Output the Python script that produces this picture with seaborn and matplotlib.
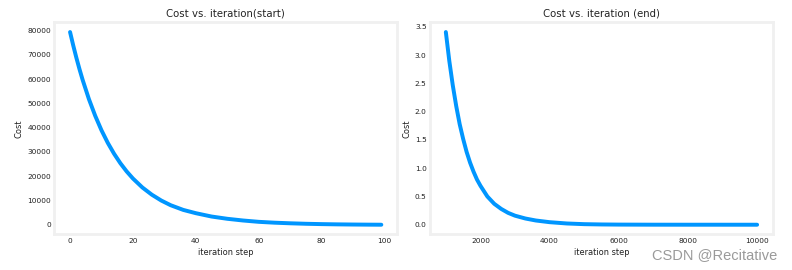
import numpy as np
import pandas as pd
import matplotlib
matplotlib.use("Agg")
import matplotlib.pyplot as plt
import seaborn as sns

# ---- data ----
start_iter = [0, 1, 2, 3, 4, 6, 8, 10, 12, 14, 16, 18, 20, 23, 26, 29, 32, 36, 40,
              45, 50, 55, 60, 65, 70, 75, 80, 85, 90, 95, 99]
start_cost = [79300, 73850, 68770, 64050, 59650, 51730, 44880, 38910, 33750, 29280,
              25390, 22020, 19100, 15420, 12460, 10060, 8130, 6200, 4850, 3480, 2550,
              1850, 1300, 950, 700, 500, 360, 260, 190, 140, 110]

end_iter = [1000, 1100, 1200, 1300, 1400, 1500, 1600, 1700, 1800, 1900, 2000, 2200,
            2400, 2600, 2800, 3000, 3300, 3600, 4000, 4500, 5000, 5500, 6000, 7000,
            8000, 9000, 9999]
end_cost = [3.41, 2.90, 2.47, 2.10, 1.78, 1.52, 1.29, 1.10, 0.94, 0.80, 0.69, 0.50,
            0.37, 0.28, 0.21, 0.16, 0.11, 0.075, 0.045, 0.022, 0.010, 0.0048, 0.0023,
            0.00054, 0.000125, 0.00003, 0.000007]

titles = ["Cost vs. iteration(start)", "Cost vs. iteration (end)"]
xlabel = "iteration step"
ylabel = "Cost"
watermark = "CSDN @Recitative"

sns.set_theme(style="white")
plt.rcParams.update({
    "font.family": ["DejaVu Sans"],
    "axes.edgecolor": "#f0f0f0",
    "axes.linewidth": 3.0,
    "xtick.major.size": 0,
    "ytick.major.size": 0,
    "xtick.labelsize": 8,
    "ytick.labelsize": 8,
    "xtick.color": "#222222",
    "ytick.color": "#222222",
    "axes.labelsize": 9,
    "axes.labelcolor": "#222222",
    "axes.titlesize": 11,
})

fig, (ax1, ax2) = plt.subplots(1, 2, figsize=(792 / 66, 270 / 66), dpi=66)
fig.subplots_adjust(left=0.0688, right=0.9756, bottom=0.132, top=0.917, wspace=0.0975)

df1 = pd.DataFrame({"iter": start_iter, "cost": start_cost})
df2 = pd.DataFrame({"iter": end_iter, "cost": end_cost})

sns.lineplot(data=df1, x="iter", y="cost", ax=ax1, color="#0096ff", linewidth=4.3)
sns.lineplot(data=df2, x="iter", y="cost", ax=ax2, color="#0096ff", linewidth=4.3)

for ax, t in zip((ax1, ax2), titles):
    ax.set_title(t, color="#222222")
    ax.set_xlabel(xlabel)
    ax.set_ylabel(ylabel)
    ax.tick_params(axis="both", pad=4)
    for s in ax.spines.values():
        s.set_visible(True)
        s.set_color("#f0f0f0")
        s.set_linewidth(3)

ax1.set_xticks([0, 20, 40, 60, 80, 100])
ax1.set_yticks([0, 10000, 20000, 30000, 40000, 50000, 60000, 70000, 80000])
ax1.ticklabel_format(style="plain", axis="y")
ax2.set_xticks([2000, 4000, 6000, 8000, 10000])
ax2.set_yticks([0.0, 0.5, 1.0, 1.5, 2.0, 2.5, 3.0, 3.5])
ax2.set_yticklabels([f"{v:.1f}" for v in [0.0, 0.5, 1.0, 1.5, 2.0, 2.5, 3.0, 3.5]])

fig.text(777 / 792, 1 - 255 / 270, watermark, ha="right", va="center",
         fontsize=16, color="#9a9a9a", family=["Liberation Sans", "DejaVu Sans"])

fig.savefig("out.png", dpi=66)
